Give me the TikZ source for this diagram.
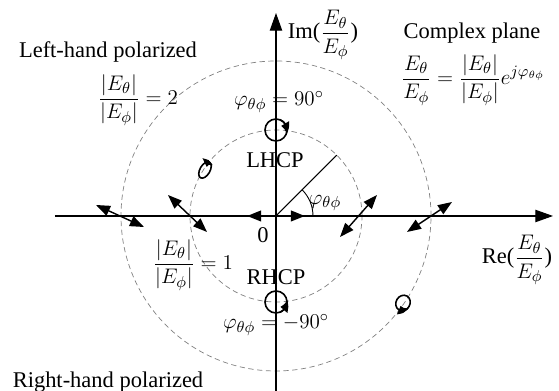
\documentclass[tikz,border=0pt]{standalone}
\usepackage{amsmath}
\usepackage{fontspec}
\setmainfont{Liberation Serif}
\usepackage{xcolor}
\usepackage{tikz}
\usetikzlibrary{arrows.meta, bending, positioning}

\begin{document}
\begin{tikzpicture}[x=0.02cm, y=0.02cm,
        every node/.style={font=\fontsize{12.8}{15}\selectfont, inner sep=0pt},
        axis/.style={-{Triangle[length=10pt, width=7pt]}, line width=0.6pt},
        lin/.style={{Triangle[length=8pt, width=6pt]}-{Triangle[length=8pt, width=6pt]}, line width=0.8pt},
        ring/.style={gray, line width=0.4pt, dash pattern=on 3pt off 2pt},
        pol/.style={line width=0.9pt},
        spin/.style={pol, -{Triangle[length=6pt, width=5pt, bend]}}]
        \useasboundingbox (-276,-175) rectangle (283,216);
        \coordinate (O) at (0,0);
        \coordinate (xl) at (-221,0);
        \coordinate (xr) at (277,0);
        \coordinate (yb) at (0,-175);
        \coordinate (yt) at (0,203);
        \coordinate (P) at (45:86);

        \draw[ring] (O) circle (86);
        \draw[ring] (O) circle (155);
        \path[axis]
        (xl) edge (xr)
        (yb) edge (yt);
        \draw[line width=0.6pt] (O) -- (P);
        \draw[line width=0.5pt] (37,0) arc (0:45:37);

        % linear polarization
        \coordinate (ol1) at (-180,11);
        \coordinate (ol2) at (-132,-11);
        \coordinate (il1) at (-108,21);
        \coordinate (il2) at (-69,-16);
        \coordinate (c1) at (-29,0);
        \coordinate (c2) at (29,0);
        \coordinate (ir1) at (64,-21);
        \coordinate (ir2) at (101,21);
        \coordinate (or1) at (131,-16);
        \coordinate (or2) at (176,14);
        \path[lin]
        (ol1) edge (ol2)
        (il1) edge (il2)
        (ir1) edge (ir2)
        (or1) edge (or2);
        \draw[lin, line width=1.2pt] (c1) -- (c2);

        % circular and elliptical polarization
        \coordinate (T) at (0,86);
        \coordinate (B) at (0,-86);
        \draw[pol] (T) circle (11);
        \draw[spin] ([shift={(70:11)}]T) arc (70:-20:11);
        \draw[pol] (B) circle (11);
        \draw[spin] ([shift={(-70:11)}]B) arc (-70:10:11);
        \begin{scope}[shift={(-71,46)}, rotate=60]
            \draw[pol] (0,0) ellipse (9 and 5);
            \draw[spin] (5:9 and 5) arc (5:-45:9 and 5);
        \end{scope}
        \begin{scope}[shift={(127,-87)}, rotate=60]
            \draw[pol] (0,0) ellipse (8 and 7);
            \draw[spin] (-160:8 and 7) arc (-160:-100:8 and 7);
        \end{scope}

        % labels
        \node (im) at (47,181) {Im($\dfrac{E_\theta}{E_\phi}$)};
        \node (re) at (241,-44) {Re($\dfrac{E_\theta}{E_\phi}$)};
        \node (cp) at (196,183) {Complex plane};
        \node (eq) at (197,136) {$\dfrac{E_\theta}{E_\phi}=\dfrac{\lvert E_\theta\rvert}{\lvert E_\phi\rvert}e^{j\varphi_{\theta\phi}}$};
        \node (lh) at (-168,164) {Left-hand polarized};
        \node (r2) at (-138,116) {$\dfrac{\lvert E_\theta\rvert}{\lvert E_\phi\rvert}=2$};
        \node (p90) at (3,114) {$\varphi_{\theta\phi}=90^\circ$};
        \node (lhcp) at (-1,56) {LHCP};
        \node (zero) at (-13,-19) {0};
        \node (rhcp) at (0,-61) {RHCP};
        \node (r1) at (-83,-49) {$\dfrac{\lvert E_\theta\rvert}{\lvert E_\phi\rvert}=1$};
        \node (m90) at (0,-109) {$\varphi_{\theta\phi}=-90^\circ$};
        \node (ang) at (49,13) {$\varphi_{\theta\phi}$};
        \node (rh) at (-168,-166) {Right-hand polarized};
\end{tikzpicture}
\end{document}
